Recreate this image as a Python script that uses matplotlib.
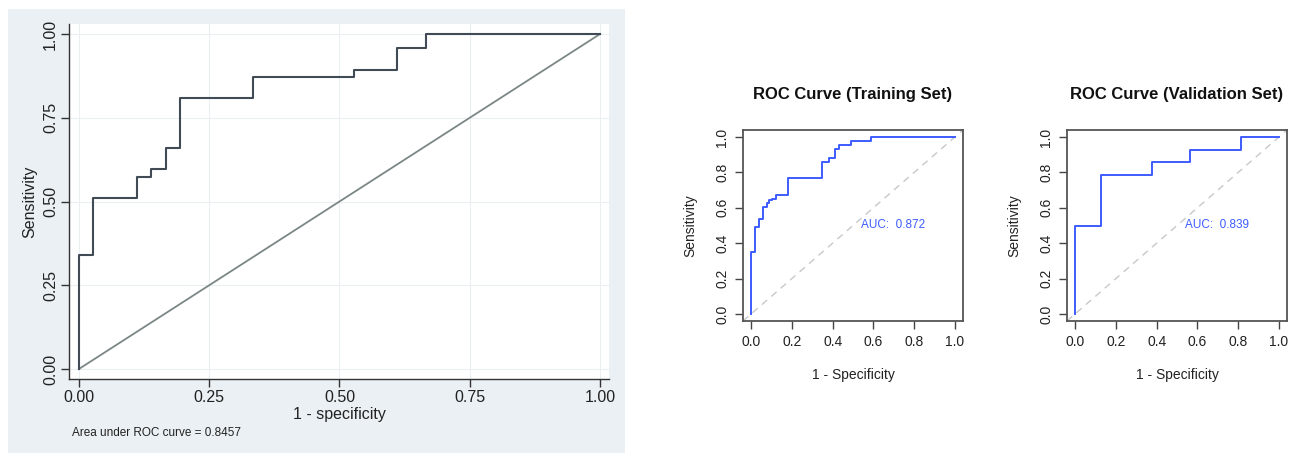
import numpy as np
import matplotlib
matplotlib.use('Agg')
import matplotlib.pyplot as plt
from matplotlib.patches import Rectangle

plt.rcParams['font.family'] = ['Liberation Sans', 'DejaVu Sans']

# Stata roctab curve (step points: 1 - specificity, sensitivity)
stata_fpr = [0, 0, 1/36, 1/36, 4/36, 4/36, 5/36, 5/36, 6/36, 6/36, 7/36, 7/36,
             12/36, 12/36, 19/36, 19/36, 22/36, 22/36, 24/36, 24/36, 1]
stata_tpr = [0, 16/47, 16/47, 24/47, 24/47, 27/47, 27/47, 28/47, 28/47, 31/47, 31/47, 38/47,
             38/47, 41/47, 41/47, 42/47, 42/47, 45/47, 45/47, 1, 1]
stata_auc = 0.8457

# training set curve (pROC)
train_fpr = [0, 0, 0.02, 0.02, 0.04, 0.04, 0.06, 0.06, 0.08, 0.08, 0.09, 0.09, 0.10, 0.10,
             0.12, 0.12, 0.18, 0.18, 0.35, 0.35, 0.38, 0.38, 0.41, 0.41, 0.43, 0.43,
             0.49, 0.49, 0.59, 0.59, 1.0]
train_tpr = [0, 0.35, 0.35, 0.49, 0.49, 0.535, 0.535, 0.605, 0.605, 0.63, 0.63, 0.645, 0.645, 0.65,
             0.65, 0.675, 0.675, 0.77, 0.77, 0.86, 0.86, 0.88, 0.88, 0.93, 0.93, 0.955,
             0.955, 0.977, 0.977, 1.0, 1.0]
train_auc = 0.872

# validation set curve (pROC)
valid_fpr = [0, 0, 0.125, 0.125, 0.375, 0.375, 0.5625, 0.5625, 0.8125, 0.8125, 1.0]
valid_tpr = [0, 0.5, 0.5, 11/14, 11/14, 12/14, 12/14, 13/14, 13/14, 1.0, 1.0]
valid_auc = 0.839

W, H = 1299, 453
fig = plt.figure(figsize=(W / 100, H / 100), dpi=100)


def box(x0, y0, x1, y1):
    # pixel box (top-left origin) -> figure fraction
    return [x0 / W, (H - y1) / H, (x1 - x0) / W, (y1 - y0) / H]


# --- left panel: Stata style ---
fig.patches.append(Rectangle((8 / W, 0), 617 / W, 444 / H, transform=fig.transFigure,
                             facecolor='#eaf0f4', edgecolor='none', zorder=-5))
ax = fig.add_axes(box(69, 24, 609, 379))
ax.set_zorder(2)
ax.set_facecolor('white')
for t in [0, 0.25, 0.5, 0.75, 1.0]:
    ax.axhline(t, color='#eceff2', lw=0.8, zorder=0)
    ax.axvline(t, color='#eceff2', lw=0.8, zorder=0)
ax.plot([0, 1], [0, 1], color='#7b8786', lw=1.3)
ax.plot(stata_fpr, stata_tpr, color='#414b56', lw=1.5)
ax.set_xlim(-0.0192, 1.0173)
ax.set_ylim(-0.03, 1.03)
ax.spines['top'].set_visible(False)
ax.spines['right'].set_visible(False)
for s in ['left', 'bottom']:
    ax.spines[s].set_color('#333333')
    ax.spines[s].set_linewidth(1.0)
ticks = [0, 0.25, 0.5, 0.75, 1.0]
ax.set_xticks(ticks)
ax.set_yticks(ticks)
ax.set_xticklabels(['0.00', '0.25', '0.50', '0.75', '1.00'], fontsize=11.5, color='#222222')
ax.set_yticklabels(['0.00', '0.25', '0.50', '0.75', '1.00'], fontsize=11.5, color='#222222',
                   rotation=90, va='center')
ax.tick_params(length=6, width=1.0, color='#333333', pad=2)
ax.set_xlabel('1 - specificity', fontsize=11.5, color='#222222', labelpad=1)
ax.set_ylabel('Sensitivity', fontsize=11.5, color='#222222', labelpad=4)
fig.text(72 / W, 1 - 433 / H, 'Area under ROC curve = %.4f' % stata_auc, fontsize=8.5,
         color='#222222', va='center', ha='left')


# --- right panels: R base graphics style ---
def r_roc(rect, fpr, tpr, auc, title):
    a = fig.add_axes(box(*rect))
    a.plot([-0.04, 1.04], [-0.04, 1.04], color='#c8c8c8', lw=1.0, ls=(0, (5, 4)))
    a.plot(fpr, tpr, color='#3d5cff', lw=1.4)
    a.set_xlim(-0.04, 1.04)
    a.set_ylim(-0.04, 1.04)
    for s in a.spines.values():
        s.set_color('#555555')
        s.set_linewidth(1.3)
    rt = [0, 0.2, 0.4, 0.6, 0.8, 1.0]
    a.set_xticks(rt)
    a.set_yticks(rt)
    a.set_xticklabels(['%.1f' % t for t in rt], fontsize=10, color='#222222')
    a.set_yticklabels(['%.1f' % t for t in rt], fontsize=10, color='#222222',
                      rotation=90, va='center')
    a.tick_params(length=6, width=1.0, color='#444444', pad=4)
    a.set_xlabel('1 - Specificity', fontsize=10, color='#222222', labelpad=14)
    a.set_ylabel('Sensitivity', fontsize=10, color='#222222', labelpad=13)
    a.set_title(title, fontsize=12, fontweight='bold', color='#111111', pad=22)
    a.text(0.54, 0.5, 'AUC:  %.3f' % auc, color='#3d5cff', fontsize=8.5,
           ha='left', va='center')
    return a


r_roc((743, 130, 963, 321), train_fpr, train_tpr, train_auc, 'ROC Curve (Training Set)')
r_roc((1067, 130, 1287, 321), valid_fpr, valid_tpr, valid_auc, 'ROC Curve (Validation Set)')

fig.savefig('out.png', dpi=100)
